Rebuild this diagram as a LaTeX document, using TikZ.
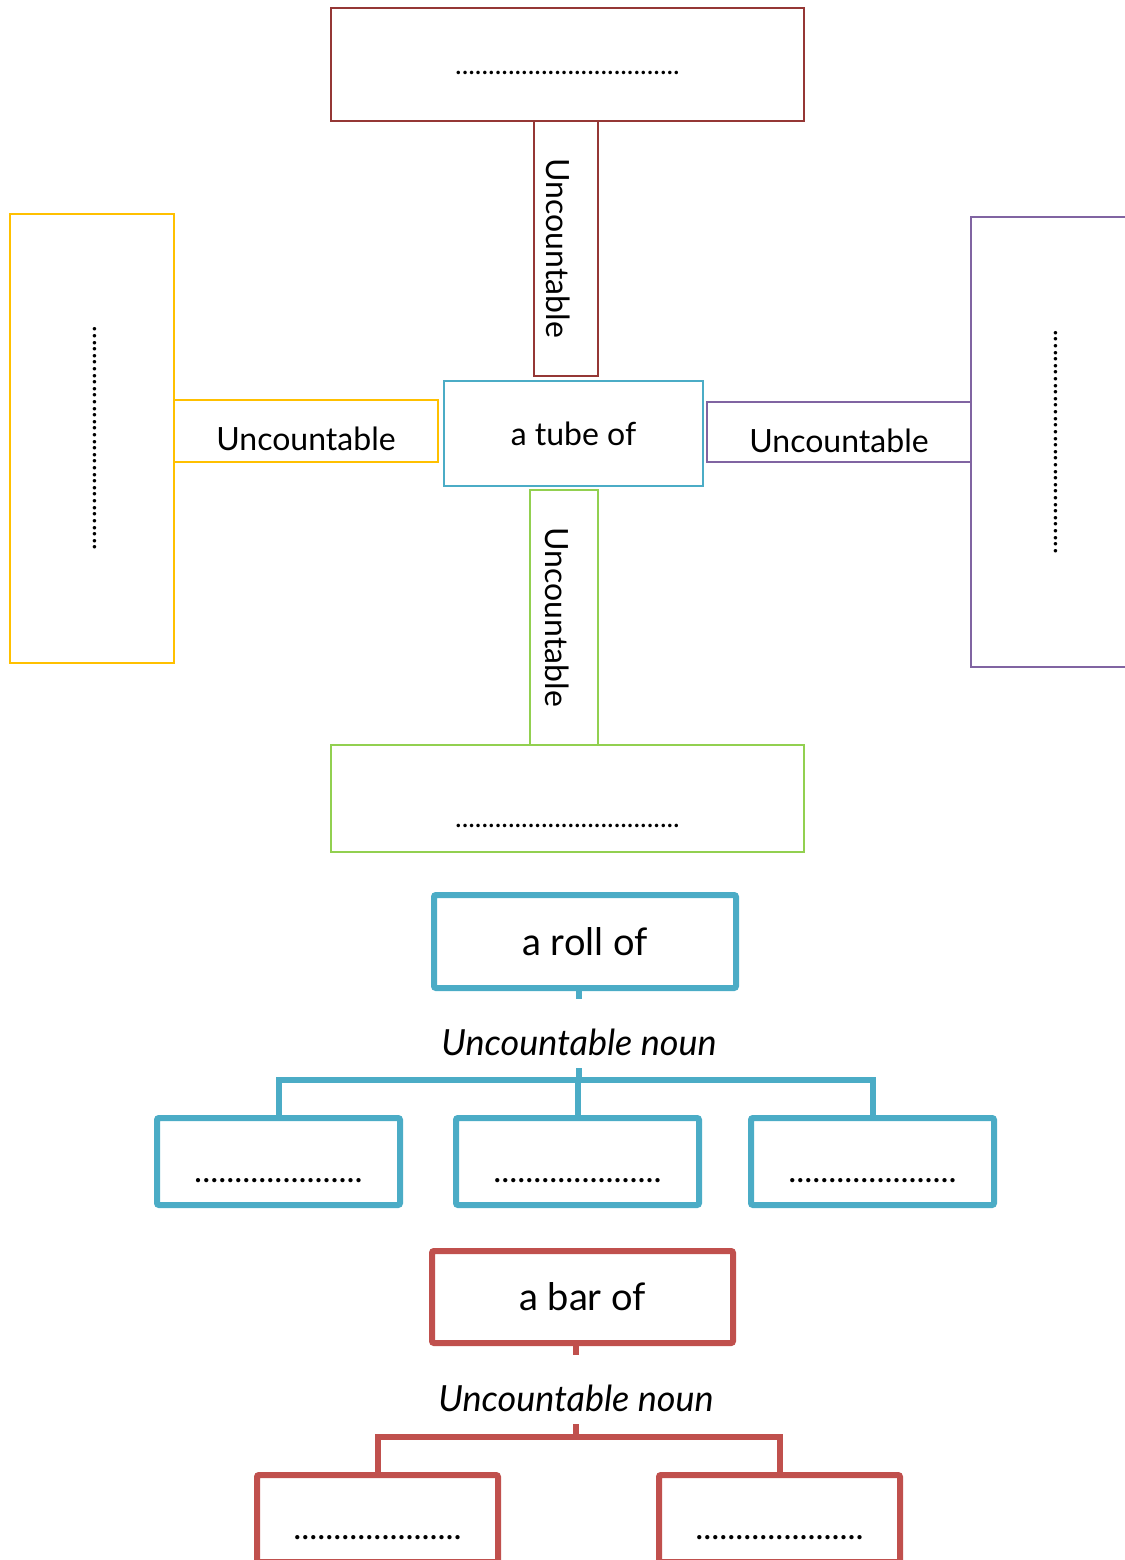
\documentclass[tikz,border=0pt]{standalone}
\usepackage{fontspec}
\setmainfont{Lato}
\usepackage{tikz}
\usetikzlibrary{positioning}
\definecolor{tubered}{HTML}{953735}
\definecolor{tubegold}{HTML}{FFC000}
\definecolor{tubeblue}{HTML}{4BACC6}
\definecolor{tubepurple}{HTML}{8064A2}
\definecolor{tubegreen}{HTML}{92D050}
\definecolor{barred}{HTML}{C0504D}

\begin{document}
\begin{tikzpicture}[
            x = 0.5pt, y = -0.5pt, % one unit per pixel of the sheet
            line join = miter
            ]

        \tikzstyle{frame}=[
            draw,
            line width = 1pt,
            inner sep = 0pt,
            font = \fontsize{16}{19}\selectfont
        ]
        \tikzstyle{blank}=[
            font = \fontsize{14}{16}\selectfont
        ]
        \tikzstyle{head}=[
            draw,
            line width = 3pt,
            rounded corners = 1pt,
            inner sep = 0pt,
            minimum width = 151pt,
            minimum height = 46.5pt,
            font = \fontsize{19}{23}\selectfont
        ]
        \tikzstyle{leaf}=[
            draw,
            line width = 3pt,
            rounded corners = 1pt,
            inner sep = 0pt,
            minimum width = 121.5pt,
            minimum height = 43.5pt,
            text height = 20.5pt, text depth = 0pt,
            font = \fontsize{17}{20}\selectfont
        ]
        \tikzstyle{kind}=[
            inner sep = 0pt,
            minimum height = 34.5pt,
            text height = 21.8pt, text depth = 0pt,
            font = \fontsize{18}{21}\selectfont\itshape
        ]
        \tikzstyle{branch}=[line width = 3pt]

        \useasboundingbox (0,0) rectangle (1125,1560);

	% the cross
	\node[frame, draw = tubeblue, minimum width = 129.5pt, minimum height = 52.5pt] (tube) at (573.5,433.5) {a tube of};

         % upper arm
         \node[frame, draw = tubered, rotate = -90, minimum width = 127.5pt, minimum height = 32pt, text height = 20pt, text depth = 0pt] (upconn) at (566,248.5) {Uncountable};
         \node[frame, blank, draw = tubered, minimum width = 236.5pt, minimum height = 56.5pt, text height = 9.9pt, text depth = 0pt] (upbox) at (567.5,64.5) {..................................};

         % left arm
         \node[frame, draw = tubegold, minimum width = 132pt, minimum height = 31pt, text height = 19.1pt, text depth = 0pt] (leftconn) [left = 2pt of tube, yshift = 1.25pt] {Uncountable};
         \node[frame, blank, draw = tubegold, rotate = 90, minimum width = 224.5pt, minimum height = 82pt, text height = 4.4pt, text depth = 0pt] (leftbox) at (92,438.5) {..................................};

         % right arm
         \node[frame, draw = tubepurple, minimum width = 132pt, minimum height = 30pt, text height = 20.6pt, text depth = 0pt] (rightconn) [right = 1pt of tube, yshift = 0.75pt] {Uncountable};
         \node[frame, blank, draw = tubepurple, rotate = 90, minimum width = 225pt, minimum height = 82pt, text height = 4.4pt, text depth = 0pt] (rightbox) at (1053,442) {..................................};

         % lower arm
         \node[frame, draw = tubegreen, rotate = -90, minimum width = 127.5pt, minimum height = 34pt, text height = 18.1pt, text depth = 0pt] (downconn) at (564,617.5) {Uncountable};
         \node[frame, blank, draw = tubegreen, minimum width = 236.5pt, minimum height = 53.5pt, text height = 28.9pt, text depth = 0pt] (downbox) at (567.5,798.5) {..................................};

	% a roll of
	\node[head, draw = tubeblue] (roll) at (585,941.5) {a roll of};
         \node[kind] (rollkind) at (579,1033.5) {Uncountable noun};
         \coordinate (rolljoin) at (579,1080);
         \node[leaf, draw = tubeblue] (rollA) at (278.5,1161.5) {.....................};
         \node[leaf, draw = tubeblue] (rollB) [right = 25pt of rollA] {.....................};
         \node[leaf, draw = tubeblue] (rollC) [right = 23pt of rollB] {.....................};
         \draw[branch, tubeblue] (rollkind.north |- roll.south) -- (rollkind.north);
         \draw[branch, tubeblue] (rollkind.south) -- (rolljoin);
         \draw[branch, tubeblue] (rollA.north) |- (rolljoin) -| (rollC.north);
         \draw[branch, tubeblue] (rollB.north) -- (rollB.north |- rolljoin);

	% a bar of
	\node[head, draw = barred, minimum width = 150.5pt, minimum height = 46pt] (bar) at (582.5,1297) {a bar of};
         \node[kind] (barkind) at (576,1389.5) {Uncountable noun};
         \coordinate (barjoin) at (576,1437);
         \node[leaf, draw = barred, minimum width = 120.5pt] (barA) at (377.5,1518.5) {.....................};
         \node[leaf, draw = barred, minimum width = 120.5pt] (barB) [right = 77.5pt of barA] {.....................};
         \draw[branch, barred] (barkind.north |- bar.south) -- (barkind.north);
         \draw[branch, barred] (barkind.south) -- (barjoin);
         \draw[branch, barred] (barA.north) |- (barjoin) -| (barB.north);

  \end{tikzpicture}
\end{document}
